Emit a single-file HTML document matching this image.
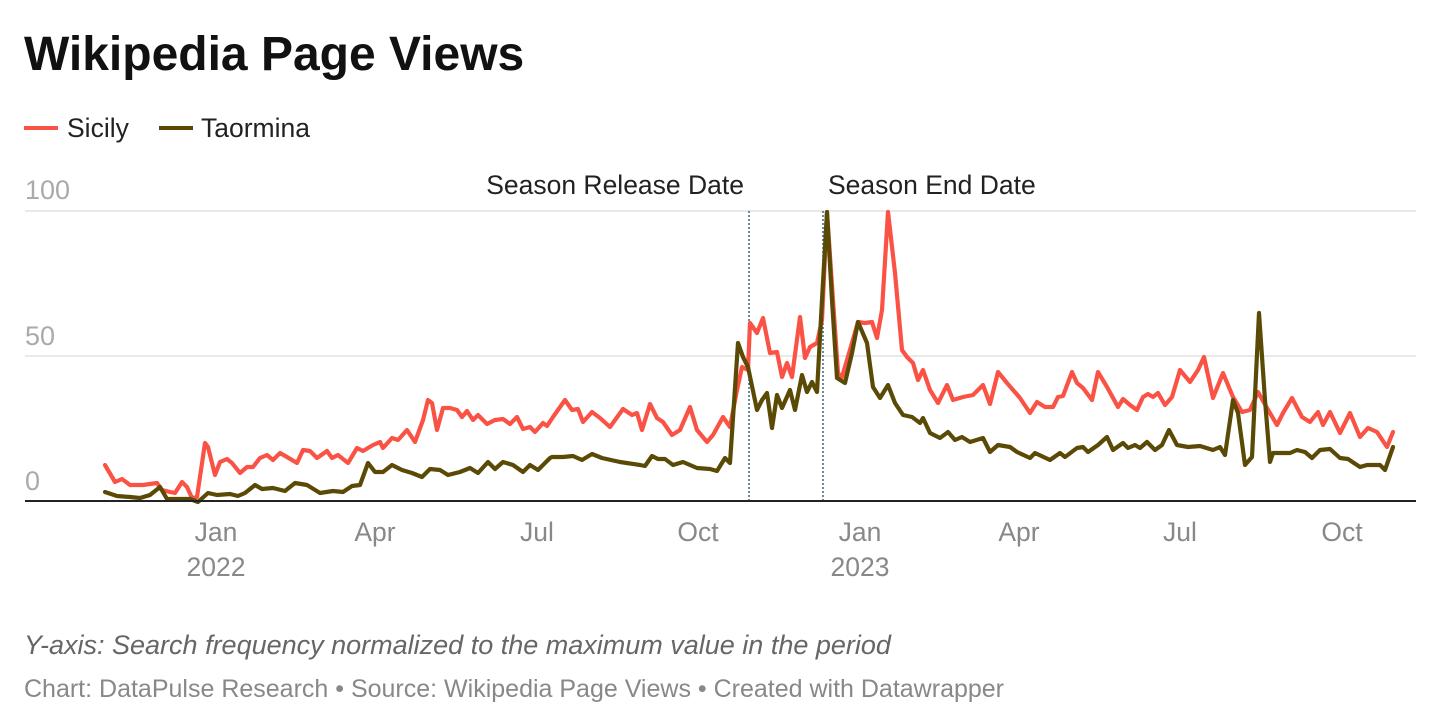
<!DOCTYPE html>
<html><head><meta charset="utf-8"><style>
body{margin:0;background:#fff;width:1440px;height:727px;overflow:hidden;font-family:"Liberation Sans",sans-serif}
</style></head><body>
<svg width="1440" height="727" xmlns="http://www.w3.org/2000/svg" style="position:absolute;left:0;top:0">
<text x="24" y="70" font-size="48" font-weight="bold" fill="#111">Wikipedia Page Views</text>
<line x1="24" y1="128" x2="58" y2="128" stroke="#fa5345" stroke-width="4"/>
<text x="67" y="137" font-size="26.5" fill="#222">Sicily</text>
<line x1="159" y1="128" x2="193" y2="128" stroke="#5a4a06" stroke-width="4"/>
<text x="201" y="137" font-size="26.5" fill="#222">Taormina</text>
<g font-size="27" fill="#aaa">
<text x="25" y="199">100</text><text x="25" y="345">50</text><text x="25" y="490">0</text>
</g>
<line x1="25" y1="211" x2="1416" y2="211" stroke="#e2e2e2" stroke-width="1.5"/>
<line x1="25" y1="356" x2="1416" y2="356" stroke="#e2e2e2" stroke-width="1.5"/>
<line x1="749" y1="211" x2="749" y2="501" stroke="#3a6680" stroke-width="1.5" stroke-dasharray="2,2"/>
<line x1="823" y1="211" x2="823" y2="501" stroke="#3a6680" stroke-width="1.5" stroke-dasharray="2,2"/>
<text x="744" y="194" font-size="26.5" fill="#222" text-anchor="end">Season Release Date</text>
<text x="828" y="194" font-size="26.5" fill="#222">Season End Date</text>
<polyline fill="none" stroke="#fa5345" stroke-width="4.2" stroke-linejoin="round" stroke-linecap="round" points="105,465 115,482 122,479 130,485 143,485 157,483 162,490 170,492 175,493 182,482 187,487 192,498 197,497 205,443 208,447 215,475 220,462 227,459 232,463 240,473 247,467 253,467 260,458 267,455 273,460 280,453 287,457 297,463 303,450 310,451 317,458 327,451 332,458 338,455 348,463 357,448 363,451 373,445 380,442 383,448 392,438 398,440 407,430 415,442 423,420 428,400 432,403 437,430 443,408 450,408 457,410 462,417 467,411 473,420 478,415 487,424 495,420 503,419 510,424 517,417 523,429 530,427 535,432 543,423 547,426 553,417 565,400 572,410 578,409 583,422 592,412 600,418 610,427 623,409 632,415 637,413 642,430 650,404 657,418 663,422 672,435 680,430 690,407 697,430 707,442 713,435 723,417 730,427 737,390 742,367 748,370 750,323 757,333 763,318 770,353 777,352 782,377 787,363 792,377 800,317 805,358 810,347 817,343 822,320 827,212 833,300 838,373 842,377 852,343 858,322 865,323 872,322 877,338 882,310 888,212 895,273 902,350 907,357 913,363 918,380 923,370 930,390 938,403 947,385 953,400 963,397 973,395 983,385 990,404 998,372 1007,383 1020,398 1030,413 1037,402 1045,407 1053,407 1058,397 1063,396 1072,372 1077,383 1083,388 1092,400 1098,372 1107,387 1118,407 1123,399 1130,405 1137,410 1143,397 1148,394 1153,397 1158,393 1165,405 1172,397 1180,370 1190,382 1198,370 1204,357 1213,398 1223,373 1233,397 1242,412 1250,410 1258,392 1267,408 1277,425 1283,413 1292,398 1302,417 1310,422 1318,412 1323,425 1330,412 1340,433 1350,413 1360,437 1368,428 1377,432 1387,447 1393,432"/>
<polyline fill="none" stroke="#5a4a06" stroke-width="4.2" stroke-linejoin="round" stroke-linecap="round" points="105,492 117,496 130,497 140,498 150,495 160,487 167,499 190,499 198,502 208,493 217,495 230,494 238,496 245,493 255,485 262,489 273,488 285,491 295,483 307,485 320,493 333,491 343,492 352,486 360,485 368,463 375,472 383,472 392,465 402,470 412,473 422,477 430,469 440,470 448,475 460,472 470,468 478,473 488,462 495,469 503,462 513,465 523,472 530,465 538,470 550,458 552,457 563,457 573,456 582,460 592,454 602,458 620,462 640,465 645,466 652,456 658,459 665,459 673,465 683,462 697,468 710,469 717,471 725,458 730,463 738,343 743,357 748,367 757,410 762,400 767,393 772,428 777,395 782,408 790,390 795,410 802,375 807,392 812,382 817,392 822,300 827,212 832,300 837,378 845,383 852,353 858,322 867,343 873,387 880,398 888,385 895,403 903,415 912,417 920,423 923,418 930,433 940,438 948,432 955,440 962,437 970,442 983,438 990,452 998,445 1010,447 1017,452 1030,458 1035,453 1050,460 1060,453 1065,457 1077,448 1083,447 1088,452 1098,445 1107,437 1113,450 1123,443 1128,448 1135,445 1140,448 1147,442 1155,450 1162,445 1169,430 1177,445 1188,447 1200,446 1213,450 1220,447 1225,455 1233,400 1238,413 1245,465 1252,457 1259,313 1265,400 1270,462 1273,453 1290,453 1297,450 1305,452 1312,458 1320,450 1330,449 1340,458 1348,459 1360,467 1367,465 1380,465 1385,470 1393,447"/>
<line x1="25" y1="501" x2="1416" y2="501" stroke="#222" stroke-width="2"/>
<g font-size="26.5" fill="#888" text-anchor="middle">
<text x="216" y="541">Jan</text><text x="216" y="576">2022</text>
<text x="375" y="541">Apr</text><text x="537" y="541">Jul</text><text x="698" y="541">Oct</text>
<text x="860" y="541">Jan</text><text x="860" y="576">2023</text>
<text x="1019" y="541">Apr</text><text x="1180" y="541">Jul</text><text x="1342" y="541">Oct</text>
</g>
<text x="24" y="654" font-size="27" font-style="italic" fill="#666">Y-axis: Search frequency normalized to the maximum value in the period</text>
<text x="24" y="697" font-size="25" fill="#888">Chart: DataPulse Research • Source: Wikipedia Page Views • Created with Datawrapper</text>
</svg>
</body></html>
